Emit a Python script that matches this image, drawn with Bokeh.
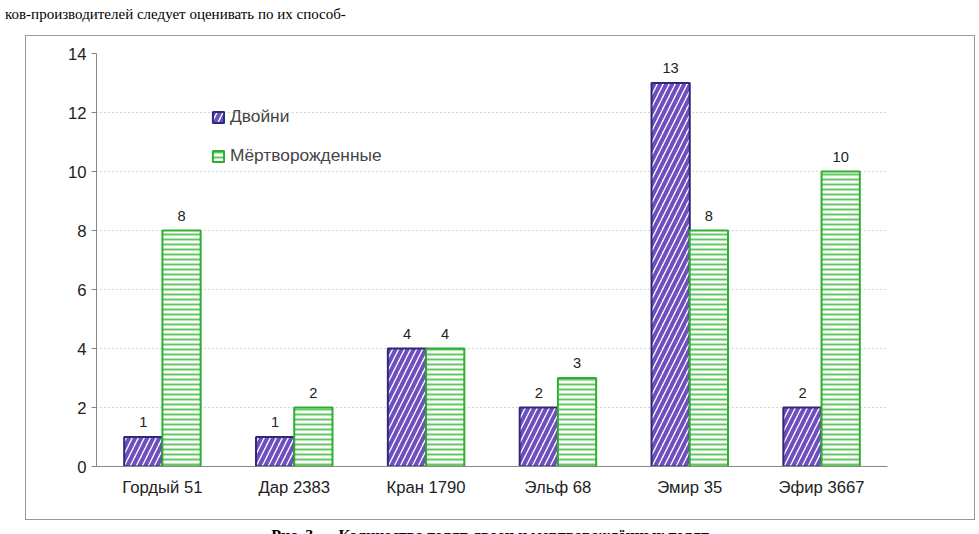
from bokeh.plotting import figure
from bokeh.models import ColumnDataSource, Div, Legend, LegendItem, LabelSet, FixedTicker, Range1d
from bokeh.core.properties import value
from bokeh.layouts import column
from bokeh.embed import file_html
from bokeh.resources import INLINE

categories = ["Гордый 51", "Дар 2383", "Кран 1790", "Эльф 68", "Эмир 35", "Эфир 3667"]
twins = [1, 1, 4, 2, 13, 2]
stillborn = [8, 2, 4, 3, 8, 10]
yticks = [0, 2, 4, 6, 8, 10, 12, 14]

xc = [i + 0.5 for i in range(len(categories))]
w = 0.29
src = ColumnDataSource(dict(
    x1=[x - w / 2 for x in xc], x2=[x + w / 2 for x in xc],
    t=twins, s=stillborn, tl=[str(v) for v in twins], sl=[str(v) for v in stillborn]))

p = figure(width=950, height=485, output_backend="svg", toolbar_location=None,
           x_range=Range1d(0, 6), y_range=Range1d(0, 14),
           min_border_left=70, min_border_right=89, min_border_top=17, min_border_bottom=55,
           margin=(0, 0, 0, 25), styles={"border": "1px solid #999"})
p.outline_line_color = None
r1 = p.vbar(x="x1", top="t", width=w, source=src, fill_color="white", line_color="#2e2a7a",
            line_width=2, hatch_pattern="/", hatch_color="#6f4fc0", hatch_scale=12, hatch_weight=4)
r2 = p.vbar(x="x2", top="s", width=w, source=src, fill_color="white", line_color="#2fae2f",
            line_width=2, hatch_pattern="-", hatch_color="#5fc85f", hatch_scale=5, hatch_weight=2)
for xcol, ycol, tcol in (("x1", "t", "tl"), ("x2", "s", "sl")):
    p.add_layout(LabelSet(x=xcol, y=ycol, text=tcol, source=src, text_align="center",
                          y_offset=10, text_font_size="11pt", text_color="#222",
                          text_font=value("Liberation Sans")))

p.xaxis.ticker = FixedTicker(ticks=xc)
p.xaxis.major_label_overrides = {x: c for x, c in zip(xc, categories)}
p.xaxis.major_tick_line_color = None
p.xaxis.minor_tick_line_color = None
p.xaxis.axis_line_color = "#888"
p.yaxis.ticker = FixedTicker(ticks=yticks)
p.yaxis.axis_line_color = "#888"
p.yaxis.major_tick_line_color = "#888"
p.yaxis.major_tick_in = 0
p.yaxis.major_tick_out = 5
p.yaxis.minor_tick_line_color = None
for ax in (p.xaxis, p.yaxis):
    ax.major_label_text_font = "Liberation Sans"
    ax.major_label_text_font_size = "12.5pt"
    ax.major_label_text_color = "#222"
p.xgrid.grid_line_color = None
p.ygrid.grid_line_color = "#aaa"
p.ygrid.grid_line_dash = "1 3"

leg = Legend(items=[LegendItem(label="Двойни", renderers=[r1]),
                    LegendItem(label="Мёртворожденные", renderers=[r2])],
             location=(115, 300), border_line_color=None, background_fill_alpha=0,
             label_text_font="Liberation Sans", label_text_font_size="13pt",
             glyph_width=14, glyph_height=14, spacing=18)
p.add_layout(leg)

top = Div(text="ков-производителей следует оценивать по их способ-", width=960, height=25,
          styles={"font-family": "Liberation Serif", "font-size": "15px", "line-height": "18px"})
cap = Div(text="<b>Рис. 3 -&nbsp;&nbsp;&nbsp; Количество телят-двоен и мертворождённых телят</b>",
          width=960, height=20,
          styles={"font-family": "Liberation Serif", "font-size": "16px", "text-align": "center",
                  "width": "960px", "margin-left": "10px"})
lay = column(top, p, cap, spacing=0)
open("out.html", "w").write(file_html(lay, INLINE))
